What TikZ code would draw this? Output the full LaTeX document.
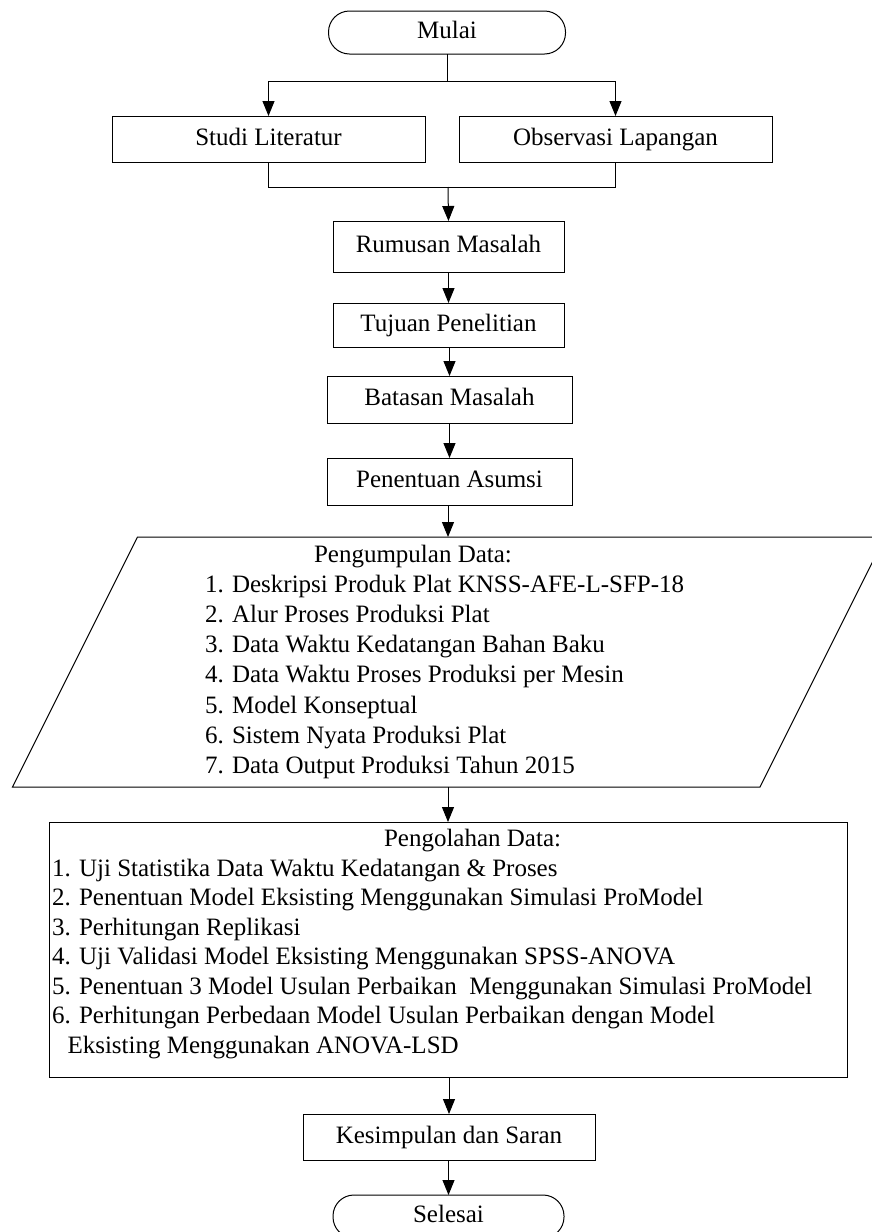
\documentclass[tikz,border=0pt]{standalone}
\usepackage{fontspec}
\setmainfont{Liberation Serif}
\usetikzlibrary{arrows.meta}
\begin{document}
\begin{tikzpicture}[x=1pt,y=-1pt,
  every node/.style={font=\fontsize{25}{30}\selectfont, inner sep=0pt, outer sep=0pt},
  box/.style={draw=black, line width=1pt, text height=17pt, text depth=5pt},
  terminal/.style={draw=black, line width=1pt, rounded corners=21pt, text height=17pt, text depth=5pt},
  ghost/.style={draw=none},
  conn/.style={draw=black, line width=1pt},
  arrow/.style={conn, -{Triangle[length=15pt,width=12pt]}},
  item/.style={anchor=base west}]
\path[use as bounding box] (0,0) rectangle (872,1232);

% nodes
\node[terminal, minimum width=237pt, minimum height=43pt] (mulai) at (447,32.5) {Mulai};
\node[box, minimum width=313pt, minimum height=46pt] (studi) at (268.5,139) {Studi Literatur};
\node[box, minimum width=313pt, minimum height=46pt] (obs) at (615.5,139) {Observasi Lapangan};
\node[box, minimum width=231pt, minimum height=51pt] (rumusan) at (448.5,246.5) {Rumusan Masalah};
\node[box, minimum width=231pt, minimum height=44pt] (tujuan) at (448.5,325) {Tujuan Penelitian};
\node[box, minimum width=245pt, minimum height=47pt] (batasan) at (449.5,399.5) {Batasan Masalah};
\node[box, minimum width=245pt, minimum height=47pt] (asumsi) at (449.5,481.5) {Penentuan Asumsi};
\node[ghost, minimum width=600pt, minimum height=250pt] (data) at (448,662) {};
\node[draw=black, line width=1pt, minimum width=798pt, minimum height=255pt] (olah) at (448,949.5) {};
\node[box, minimum width=292pt, minimum height=46pt] (kesimpulan) at (449,1137) {Kesimpulan dan Saran};
\node[terminal, minimum width=231pt, minimum height=43pt] (selesai) at (448.5,1216.5) {Selesai};

% parallelogram outline
\draw[conn] (137.5,537) -- (885,537) -- (760,787) -- (12.5,787) -- cycle;

% data collection text
\node[item] (d0) at (314,562.5) {Pengumpulan Data:};
\node[item] (d1) at (205,592.6) {1. Deskripsi Produk Plat KNSS-AFE-L-SFP-18};
\node[item] (d2) at (205,622.7) {2. Alur Proses Produksi Plat};
\node[item] (d3) at (205,652.8) {3. Data Waktu Kedatangan Bahan Baku};
\node[item] (d4) at (205,682.9) {4. Data Waktu Proses Produksi per Mesin};
\node[item] (d5) at (205,713.0) {5. Model Konseptual};
\node[item] (d6) at (205,743.1) {6. Sistem Nyata Produksi Plat};
\node[item] (d7) at (205,773.2) {7. Data Output Produksi Tahun 2015};

% data processing text
\node[item] (p0) at (384,846.5) {Pengolahan Data:};
\node[item] (p1) at (52,876) {1. Uji Statistika Data Waktu Kedatangan \& Proses};
\node[item] (p2) at (52,905.5) {2. Penentuan Model Eksisting Menggunakan Simulasi ProModel};
\node[item] (p3) at (52,935) {3. Perhitungan Replikasi};
\node[item] (p4) at (52,964.5) {4. Uji Validasi Model Eksisting Menggunakan SPSS-ANOVA};
\node[item] (p5) at (52,994) {5. Penentuan 3 Model Usulan Perbaikan\ \ Menggunakan Simulasi ProModel};
\node[item] (p6) at (52,1023.5) {6. Perhitungan Perbedaan Model Usulan Perbaikan dengan Model};
\node[item] (p7) at (67.5,1053) {Eksisting Menggunakan ANOVA-LSD};

% connectors
\coordinate (split) at (447,81);
\coordinate (merge) at (448,187);
\draw[conn] (mulai.south) -- (split);
\draw[arrow] (split) -| (studi.north);
\draw[arrow] (split) -| (obs.north);
\draw[conn] (studi.south) |- (merge);
\draw[conn] (obs.south) |- (merge);
\draw[arrow] (merge) -- (rumusan.north);
\draw[arrow] (rumusan.south) -- (tujuan.north);
\draw[arrow] (tujuan.south -| batasan.north) -- (batasan.north);
\draw[arrow] (batasan.south) -- (asumsi.north);
\draw[arrow] (asumsi.south -| data.north) -- (data.north);
\draw[arrow] (data.south) -- (olah.north);
\draw[arrow] (olah.south -| kesimpulan.north) -- (kesimpulan.north);
\draw[arrow] (kesimpulan.south -| selesai.north) -- (selesai.north);
\end{tikzpicture}
\end{document}
